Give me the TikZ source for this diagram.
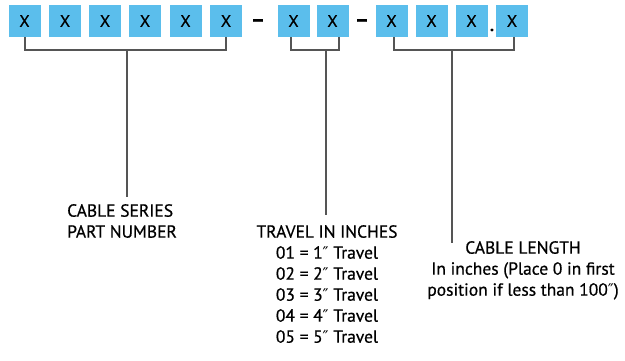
\documentclass[tikz,border=0pt]{standalone}
\usepackage{fontspec}
\setmainfont{PT Sans}[FakeBold=0.6]
\newfontfamily\primefont{DejaVu Sans}
\newcommand{\dprime}{{\primefont\fontsize{16}{16}\selectfont ″}}
\definecolor{boxblue}{HTML}{5BBEEC}
\definecolor{linegray}{HTML}{555555}
\begin{document}
\begin{tikzpicture}[x=1pt,y=-1pt,
  digit/.style={fill=boxblue,minimum width=32pt,minimum height=32pt,inner sep=0pt,font=\fontsize{16.5}{16.5}\selectfont},
  brk/.style={draw=linegray,line width=2pt},
  lbl/.style={font=\fontsize{17.5}{21}\selectfont,inner sep=0pt},
  sym/.style={font=\fontsize{22}{22}\selectfont\bfseries,inner sep=0pt}]
\useasboundingbox (0,0) rectangle (625,360);
\foreach \n/\x in {1/24.5,2/65,3/105,4/145,5/185.5,6/226,7/293.5,8/332.5,9/391.5,10/431.5,11/471.5,12/512}
  \node[digit] (b\n) at (\x,21) {X};
\node[sym] (d1) at (258,23) {–};
\node[sym] (d2) at (362,23) {–};
\node[sym,font=\fontsize{16}{16}\selectfont\bfseries] (dot) at (492,30) {.};
% group 1
\coordinate (g1l) at (24.5,50);
\coordinate (g1r) at (226,50);
\coordinate (g1m) at (127,50);
\draw[brk] (b1.south) -- (g1l) -- (g1r) -- (b6.south);
\node[lbl,align=left,anchor=north west] (t1) at (67,204) {CABLE SERIES\\PART NUMBER};
\coordinate (e1) at (127,197);
\draw[brk] (g1m) -- (e1);
% group 2
\coordinate (g2l) at (291,50);
\coordinate (g2r) at (339,50);
\coordinate (g2m) at (325.5,50);
\draw[brk] (b7.south -| g2l) -- (g2l) -- (g2r) -- (b8.south -| g2r);
\node[lbl,align=center,anchor=north] (t2) at (327,225) {TRAVEL IN INCHES\\01 = 1\dprime{} Travel\\02 = 2\dprime{} Travel\\03 = 3\dprime{} Travel\\04 = 4\dprime{} Travel\\05 = 5\dprime{} Travel};
\coordinate (e2) at (325.5,215);
\draw[brk] (g2m) -- (e2);
% group 3
\coordinate (g3l) at (393.5,50);
\coordinate (g3r) at (514,50);
\coordinate (g3m) at (452,50);
\draw[brk] (b9.south -| g3l) -- (g3l) -- (g3r) -- (b12.south -| g3r);
\node[lbl,align=center,anchor=north] (t3) at (523,241) {CABLE LENGTH\\In inches (Place 0 in first\\position if less than 100\dprime)};
\coordinate (e3) at (452,243);
\draw[brk] (g3m) -- (e3);
\end{tikzpicture}
\end{document}
